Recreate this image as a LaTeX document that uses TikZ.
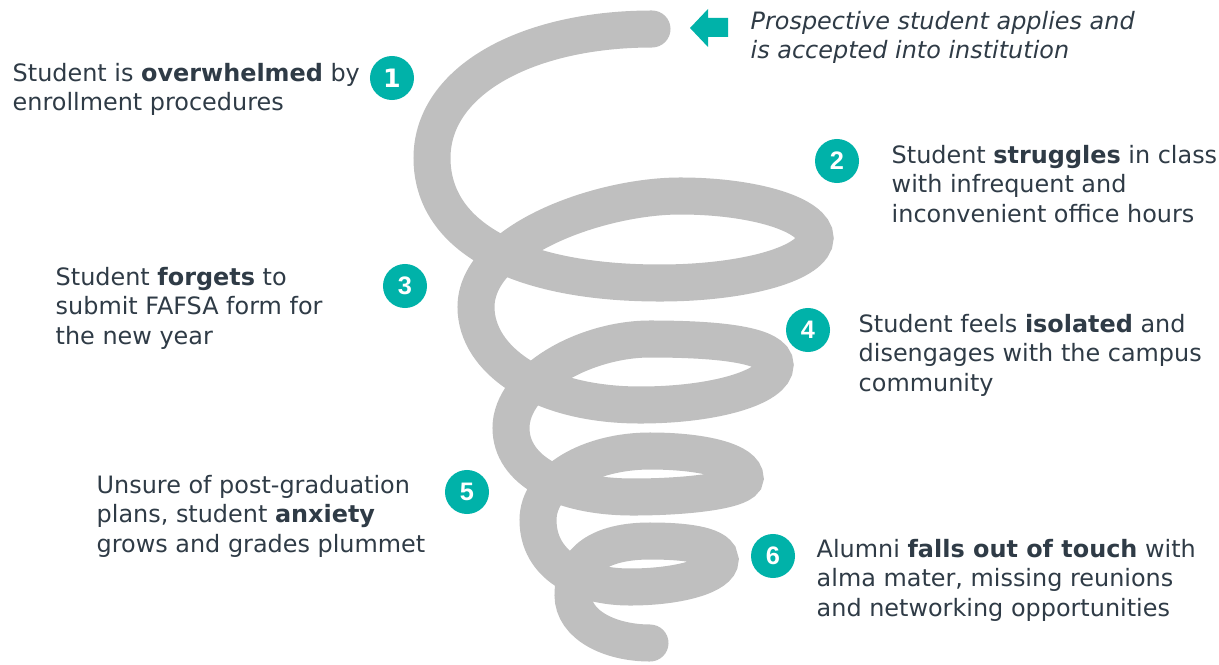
\documentclass[tikz,border=0pt]{standalone}
\usepackage{fontspec}
\setmainfont{DejaVu Sans}
\newfontfamily\numfont{Liberation Sans}
\newfontfamily\onefont{DejaVu Sans}

\definecolor{spiralgray}{HTML}{BFBFBF}
\definecolor{tealmark}{HTML}{00B2A9}
\definecolor{slatetext}{HTML}{2F3B46}

\tikzset{
  spiral/.style={draw=spiralgray, line width=0.37cm, line cap=round},
  numdot/.style={circle, fill=tealmark, text=white, minimum size=0.44cm, inner sep=0pt,
    font=\numfont\bfseries\fontsize{7.2}{7.2}\selectfont},
  stepnote/.style={anchor=base west, align=left, inner sep=0pt, text=slatetext,
    font=\fontsize{6.8}{8.3}\selectfont},
}

\begin{document}
\begin{tikzpicture}[x=0.01cm, y=-0.01cm]
\useasboundingbox (0,0) rectangle (1219,664);

% the spiral
\draw[spiral] (652,29)
  .. controls (528,29) and (432,80) .. (432,158)
  .. controls (432,238) and (520,283) .. (660,283)
  .. controls (746,283) and (815,263) .. (815,238)
  .. controls (815,215) and (755,196) .. (680,196)
  .. controls (600,196) and (476,240) .. (476,307)
  .. controls (476,360) and (540,405) .. (640,405)
  .. controls (715,405) and (775,387) .. (775,365)
  .. controls (775,345) and (720,339) .. (650,339)
  .. controls (585,339) and (511,380) .. (511,428)
  .. controls (511,470) and (560,497) .. (633,497)
  .. controls (690,497) and (745,490) .. (745,478)
  .. controls (745,462) and (705,451) .. (650,451)
  .. controls (590,451) and (538,480) .. (538,520)
  .. controls (538,565) and (580,587) .. (630,587)
  .. controls (680,587) and (720,575) .. (720,560)
  .. controls (720,546) and (690,541) .. (650,541)
  .. controls (600,541) and (573,560) .. (573,595)
  .. controls (573,625) and (610,643) .. (650,643);

% entry arrow
\fill[tealmark] (690,28) -- (708,9) -- (708,18) -- (728,18) -- (728,37)
  -- (708,37) -- (708,47) -- cycle;
\node[stepnote, font=\itshape\fontsize{6.8}{8.3}\selectfont] (start) at (750,59)
  {Prospective student applies and\\is accepted into institution};

\node[numdot] (num1) at (392,78) {\onefont\bfseries 1};
\node[numdot] (num2) at (837,161) {2};
\node[numdot] (num3) at (405,286) {3};
\node[numdot] (num4) at (808,330) {4};
\node[numdot] (num5) at (467,492) {5};
\node[numdot] (num6) at (773,556) {6};

% notes: base anchor sits on the last line
\node[stepnote] (note1) at (12,111) {Student is \textbf{overwhelmed} by\\enrollment procedures};
\node[stepnote] (note2) at (891,222) {Student \textbf{struggles} in class\\with infrequent and\\inconvenient office hours};
\node[stepnote] (note3) at (55,344) {Student \textbf{forgets} to\\submit FAFSA form for\\the new year};
\node[stepnote] (note4) at (858,391) {Student feels \textbf{isolated} and\\disengages with the campus\\community};
\node[stepnote] (note5) at (96,552) {Unsure of post-graduation\\plans, student \textbf{anxiety}\\grows and grades plummet};
\node[stepnote] (note6) at (816,616) {Alumni \textbf{falls out of touch} with\\alma mater, missing reunions\\and networking opportunities};
\end{tikzpicture}
\end{document}
